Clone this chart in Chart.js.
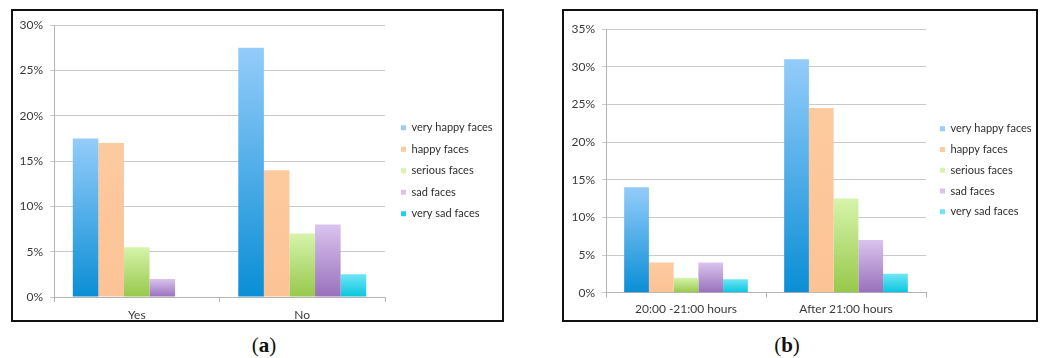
<!DOCTYPE html>
<html>
<head>
<meta charset="utf-8">
<script src="https://cdn.jsdelivr.net/npm/chart.js@4/dist/chart.umd.min.js"></script>
<style>
  html, body { margin: 0; padding: 0; background: #fff; }
  body { width: 1046px; height: 358px; position: relative; overflow: hidden; }
  .panel { position: absolute; border: 2px solid #111; box-sizing: border-box; background: #fff; overflow: hidden; }
  .panel canvas { position: absolute; left: 0; top: 0; }
  .cap { position: absolute; font-family: "Liberation Serif", "DejaVu Serif", serif; font-size: 21px; color: #111;
         transform: translate(-50%, -50%); white-space: nowrap; }
  .cap b { font-weight: bold; }
</style>
</head>
<body>
<div class="panel" style="left:11px; top:9px; width:493px; height:313px;"><canvas id="chartA" width="529" height="309"></canvas></div>
<div class="panel" style="left:562px; top:9px; width:476px; height:313px;"><canvas id="chartB" width="512" height="309"></canvas></div>
<div class="cap" style="left:264px; top:345px;">(<b>a</b>)</div>
<div class="cap" style="left:787px; top:345px;">(<b>b</b>)</div>
<script>
// Series names shared by both panels
const SERIES = ['very happy faces', 'happy faces', 'serious faces', 'sad faces', 'very sad faces'];

// (a) share of each face type, by answer
const CATEGORIES_A = ['Yes', 'No'];
const VERY_HAPPY_A = [17.5, 27.5];
const HAPPY_A      = [17, 14];
const SERIOUS_A    = [5.5, 7];
const SAD_A        = [2, 8];
const VERY_SAD_A   = [0, 2.5];
const Y_MAX_A = 30;

// (b) share of each face type, by time of day
const CATEGORIES_B = ['20:00 -21:00 hours', 'After 21:00 hours'];
const VERY_HAPPY_B = [14, 31];
const HAPPY_B      = [4, 24.5];
const SERIOUS_B    = [2, 12.5];
const SAD_B        = [4, 7];
const VERY_SAD_B   = [1.8, 2.5];
const Y_MAX_B = 35;
const Y_STEP = 5;

// Fill colours: [top of bar, bottom of bar, legend swatch]
const FILLS = [
  ['#94ccfa', '#0a8ed5', '#3d9fe3'],
  ['#fdca9f', '#fcc395', '#fdc79b'],
  ['#d6f4ab', '#97c84a', '#a8d468'],
  ['#dac4ef', '#9970bb', '#a586cc'],
  ['#6ee6f6', '#09c5de', '#22cfe6']
];

const FONT = "Lato, 'Liberation Sans', sans-serif";
const TICK_FS = 12;
const LEG_FS = 11;
const BOX = 5;
const TEXT = '#3a3a3a';
const LEG_TEXT = '#2e2e2e';
const AXIS = '#b4b4b4';
const GRID = '#c9c9c9';

// Width Chart.js gives a single-column legend on the right
function legendBoxWidth(pad) {
  const c = document.createElement('canvas').getContext('2d');
  c.font = `normal ${LEG_FS}px ${FONT}`;
  const w = Math.max(...SERIES.map((s) => c.measureText(s).width));
  return pad + BOX + LEG_FS / 2 + w + 10;
}

function barFill(f) {
  return (c) => {
    if (c.type !== 'data') return f[2];
    const chart = c.chart;
    const y = chart.scales.y;
    if (!y || !chart.chartArea) return f[2];
    const top = y.getPixelForValue(c.raw);
    const bottom = y.getPixelForValue(0);
    if (!isFinite(top) || bottom - top < 1) return f[2];
    const g = chart.ctx.createLinearGradient(0, top, 0, bottom);
    g.addColorStop(0, f[0]);
    g.addColorStop(1, f[1]);
    return g;
  };
}

function makeChart(id, categories, series, yMax, geo) {
  const canvas = document.getElementById(id);
  const padRight = canvas.width - geo.plotRight - geo.gap - legendBoxWidth(geo.legendPad);
  const datasets = series.map((values, i) => ({
    label: SERIES[i],
    data: values,
    yAxisID: 'y',
    backgroundColor: barFill(FILLS[i]),
    borderWidth: 0,
    categoryPercentage: 0.773,
    barPercentage: 1
  }));
  return new Chart(canvas, {
    type: 'bar',
    data: { labels: categories, datasets },
    options: {
      responsive: false,
      animation: false,
      devicePixelRatio: 1,
      layout: { padding: { left: 0, top: geo.top, right: padRight, bottom: 0 } },
      plugins: {
        tooltip: { enabled: false },
        legend: {
          position: 'right',
          align: 'center',
          fullSize: false,
          maxWidth: 300,
          title: { display: true, text: '', font: { family: FONT, size: 10 }, padding: { top: 0, bottom: geo.legendShift } },
          labels: {
            boxWidth: BOX, boxHeight: BOX, padding: geo.legendPad,
            color: LEG_TEXT, font: { family: FONT, size: LEG_FS }
          }
        }
      },
      scales: {
        x: {
          type: 'category',
          grid: { display: true, drawOnChartArea: false, offset: true, tickLength: 5, color: AXIS },
          border: { display: true, color: AXIS },
          ticks: { color: TEXT, font: { family: FONT, size: TICK_FS }, padding: geo.xPad, maxRotation: 0 },
          afterFit: (s) => { s.height = geo.xHeight; }
        },
        y: {
          position: 'left',
          min: 0, max: yMax,
          grid: { color: GRID, tickLength: 4 },
          border: { display: true, color: AXIS },
          ticks: { stepSize: Y_STEP, padding: 7, color: TEXT, font: { family: FONT, size: TICK_FS },
                   callback: (v) => v + '%' },
          afterFit: (s) => { s.width = geo.yWidth; }
        },
        // empty strip that keeps the legend clear of the plot
        spacer: {
          type: 'linear', position: 'right', display: true,
          grid: { display: false, drawTicks: false },
          ticks: { display: false },
          border: { display: false },
          afterFit: (s) => { s.width = geo.gap; }
        }
      }
    }
  });
}

makeChart('chartA', CATEGORIES_A,
  [VERY_HAPPY_A, HAPPY_A, SERIOUS_A, SAD_A, VERY_SAD_A], Y_MAX_A,
  { top: 13, plotRight: 372, legendPad: 10.5, legendShift: 7.5, gap: 5.5, xHeight: 23, xPad: 6, yWidth: 41 });

makeChart('chartB', CATEGORIES_B,
  [VERY_HAPPY_B, HAPPY_B, SERIOUS_B, SAD_B, VERY_SAD_B], Y_MAX_B,
  { top: 18, plotRight: 362, legendPad: 9.8, legendShift: 6.8, gap: 4.2, xHeight: 27.3, xPad: 4, yWidth: 42 });
</script>
</body>
</html>
